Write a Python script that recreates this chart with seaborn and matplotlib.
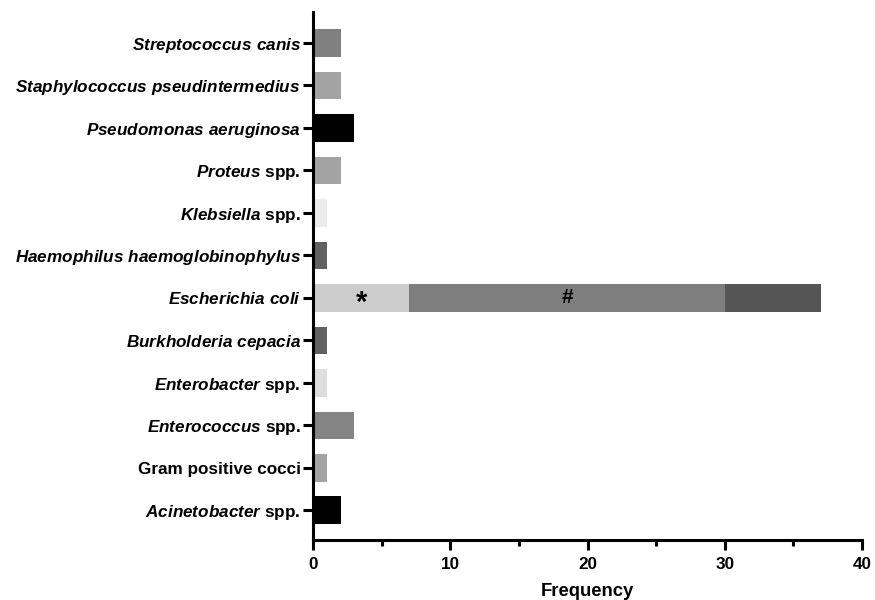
import matplotlib
matplotlib.use("Agg")
import matplotlib.pyplot as plt
import seaborn as sns
import pandas as pd
from matplotlib.ticker import MultipleLocator

sns.set_theme(style="ticks")
plt.rcParams['font.family'] = ['Liberation Sans', 'DejaVu Sans']
plt.rcParams['text.color'] = 'black'
plt.rcParams['axes.labelcolor'] = 'black'
plt.rcParams['xtick.color'] = 'black'
plt.rcParams['ytick.color'] = 'black'
plt.rcParams['mathtext.fontset'] = 'custom'
plt.rcParams['mathtext.bfit'] = 'Liberation Sans:italic:bold'
plt.rcParams['mathtext.it'] = 'Liberation Sans:italic:bold'
plt.rcParams['mathtext.rm'] = 'Liberation Sans:bold'

# Data (top to bottom)
categories = [
    r"$\mathbfit{Streptococcus\ canis}$",
    r"$\mathbfit{Staphylococcus\ pseudintermedius}$",
    r"$\mathbfit{Pseudomonas\ aeruginosa}$",
    r"$\mathbfit{Proteus}$ spp.",
    r"$\mathbfit{Klebsiella}$ spp.",
    r"$\mathbfit{Haemophilus\ haemoglobinophylus}$",
    r"$\mathbfit{Escherichia\ coli}$",
    r"$\mathbfit{Burkholderia\ cepacia}$",
    r"$\mathbfit{Enterobacter}$ spp.",
    r"$\mathbfit{Enterococcus}$ spp.",
    "Gram positive cocci",
    r"$\mathbfit{Acinetobacter}$ spp.",
]
values = [2, 2, 3, 2, 1, 1, 0, 1, 1, 3, 1, 2]
bar_colors = ["#808080", "#a3a3a3", "#000000", "#a3a3a3", "#ececec", "#616161",
              "#ffffff", "#616161", "#dedede", "#848484", "#a3a3a3", "#000000"]

# Escherichia coli stacked segments
ecoli_segments = [7, 23, 7]
ecoli_colors = ["#cdcdcd", "#7e7e7e", "#555555"]
ecoli_marks = ["*", "#", ""]

df = pd.DataFrame({"Organism": categories, "Frequency": values})

fig = plt.figure(figsize=(8.75, 6), dpi=100)
ax = fig.add_axes([0.358, 0.10, 0.627, 0.88])

sns.barplot(data=df, x="Frequency", y="Organism", orient="h", hue="Organism",
            palette=dict(zip(categories, bar_colors)), legend=False,
            width=0.65, ax=ax, saturation=1, linewidth=0)

# stacked E. coli: draw cumulative totals from largest to smallest
ecoli_label = categories[6]
cum = [sum(ecoli_segments[:i + 1]) for i in range(len(ecoli_segments))]
for total, col in reversed(list(zip(cum, ecoli_colors))):
    sub = pd.DataFrame({"Organism": [ecoli_label], "Frequency": [total]})
    sns.barplot(data=sub, x="Frequency", y="Organism", orient="h",
                color=col, width=0.65, ax=ax, saturation=1, linewidth=0,
                order=categories)

start = 0
for seg, mark in zip(ecoli_segments, ecoli_marks):
    if mark:
        is_star = mark == "*"
        ax.text(start + seg / 2, 6 + (0.12 if is_star else 0), mark,
                ha="center", va="center", fontsize=21 if is_star else 15,
                fontweight="bold", color="black")
    start += seg

ax.set_xlim(0, 40)
ax.set_ylim(11.7, -0.73)
ax.xaxis.set_major_locator(MultipleLocator(10))
ax.xaxis.set_minor_locator(MultipleLocator(5))
ax.set_xlabel("Frequency", fontsize=13.3, fontweight="bold", labelpad=8)
ax.set_ylabel("")
for s in ["top", "right"]:
    ax.spines[s].set_visible(False)
for s in ["left", "bottom"]:
    ax.spines[s].set_linewidth(2.2)
    ax.spines[s].set_color("black")
ax.tick_params(axis="both", which="major", length=7, width=2.2, color="black",
               labelsize=12.3, labelcolor="black")
ax.tick_params(axis="x", which="major", pad=5)
ax.tick_params(axis="y", which="major", pad=2)
ax.tick_params(axis="x", which="minor", length=4.3, width=2.2, color="black")
for lab in ax.get_xticklabels():
    lab.set_fontweight("bold")
    lab.set_fontsize(12.3)
for lab in ax.get_yticklabels():
    lab.set_fontweight("bold")
    lab.set_fontsize(12.3)

fig.savefig("out.png", dpi=100)
